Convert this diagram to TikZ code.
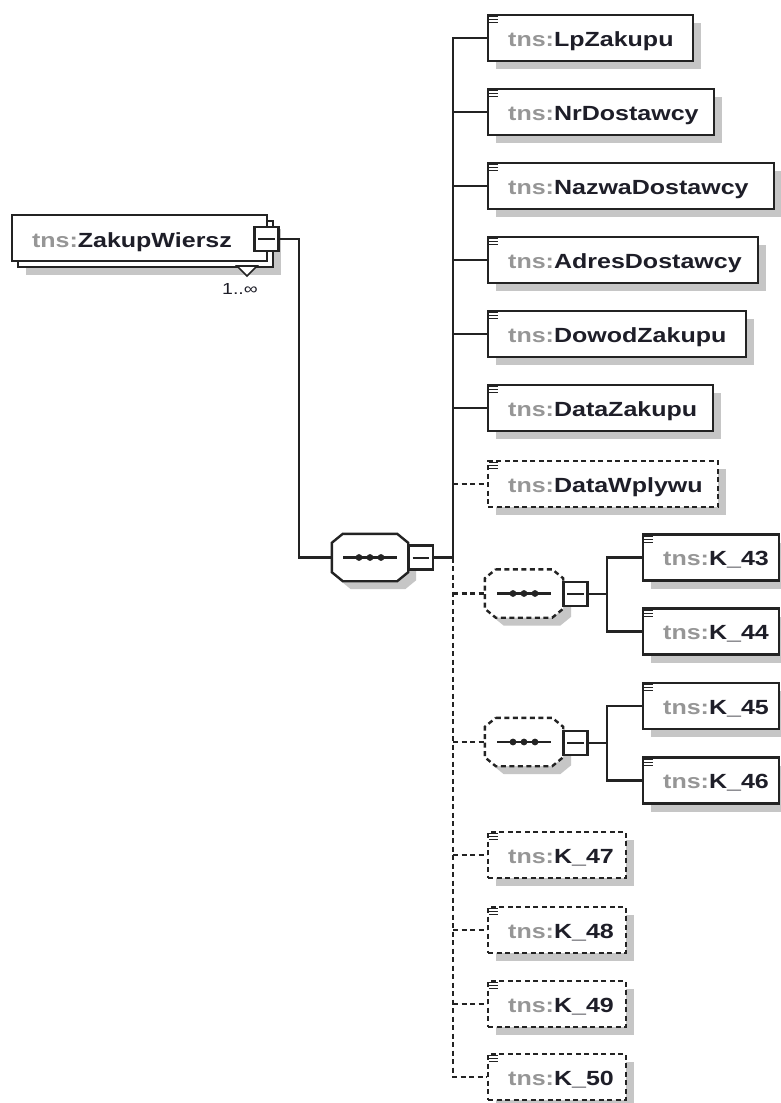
\documentclass[tikz,border=0pt]{standalone}
\usepackage{fontspec}
\newfontfamily\lblfont{Liberation Sans}[FakeStretch=1.22]
\usetikzlibrary{shadows,calc}
\definecolor{tnsgray}{RGB}{150,150,150}
\definecolor{namedark}{RGB}{30,30,40}
\definecolor{linecol}{RGB}{35,35,35}
\definecolor{shadowgray}{RGB}{198,198,198}
\tikzset{
  conn/.style={draw=linecol, line width=2.4pt},
  optconn/.style={conn, dash pattern=on 5pt off 3.5pt},
  boxshadow/.style={drop shadow={shadow xshift=8pt, shadow yshift=-8pt, fill=shadowgray, opacity=1}},
  elbox/.style={draw=linecol, line width=2.4pt, fill=white, minimum height=46pt, inner sep=0pt, boxshadow},
  optbox/.style={elbox, dash pattern=on 5pt off 3.5pt},
  plainbox/.style={draw=linecol, line width=2.4pt, fill=white, minimum height=46pt, inner sep=0pt},
  lbl/.style={inner sep=0pt, font=\lblfont\bfseries\fontsize{20.5}{24}\selectfont, text=namedark},
  cardlbl/.style={inner sep=0pt, font=\lblfont\fontsize{16}{19}\selectfont, text=namedark},
  seqnode/.style={rectangle, draw=none, minimum width=#1, minimum height=47pt, inner sep=0pt},
  minusbox/.style={draw=linecol, line width=2.8pt, fill=white, minimum width=24pt, minimum height=24pt, inner sep=0pt},
}
% element: name, style, left x, centre y, width, label
\newcommand\xelem[6]{%
  \node[#2, minimum width=#5pt, anchor=west] (#1) at (#3,#4) {};
  \node[lbl, anchor=base west] (#1-t) at ($(#1.west)+(21,8)$) {\textcolor{tnsgray}{tns:}#6};
  \foreach \dy in {3,6,9} {\draw[linecol, line width=1.3pt] ($(#1.north west)+(2,\dy)$) -- ++(9,0);}
}
% octagon drawn round a named node
\newcommand\xoct[2]{%
  \fill[shadowgray] ($(#1.north west)+(19,8)$) -- ($(#1.north east)+(-3,8)$) -- ($(#1.north east)+(8,17)$) -- ($(#1.south east)+(8,-1)$) -- ($(#1.south east)+(-3,8)$) -- ($(#1.south west)+(19,8)$) -- ($(#1.south west)+(8,-1)$) -- ($(#1.north west)+(8,17)$) -- cycle;
  \filldraw[fill=white, #2] ($(#1.north west)+(11,0)$) -- ($(#1.north east)+(-11,0)$) -- ($(#1.north east)+(0,9)$) -- ($(#1.south east)+(0,-9)$) -- ($(#1.south east)+(-11,0)$) -- ($(#1.south west)+(11,0)$) -- ($(#1.south west)+(0,-9)$) -- ($(#1.north west)+(0,9)$) -- cycle;
  \draw[conn] ($(#1)+(-27,0)$) -- ($(#1)+(27,0)$);
  \foreach \dx in {-11,0,11} {\fill[linecol] ($(#1)+(\dx,0)$) circle (3.4pt);}
}
\newcommand\xminus[3]{%
  \node[minusbox] (#1) at (#2,#3) {};
  \draw[linecol, line width=2pt] ($(#1.west)+(5,0)$) -- ($(#1.east)+(-5,0)$);
}
\begin{document}
\begin{tikzpicture}[x=1pt, y=-1pt]
\useasboundingbox[fill=white] (0,0) rectangle (781,1103);

% root element
\node[plainbox, minimum width=255pt, boxshadow] (zwback) at (145.5,244) {};
\node[plainbox, minimum width=255pt] (zw) at (139.5,238) {};
\node[lbl, anchor=base west] (zw-t) at ($(zw.west)+(21,9)$) {\textcolor{tnsgray}{tns:}ZakupWiersz};
\filldraw[fill=white, draw=linecol, line width=1.6pt] (237,266) -- (257,266) -- (247,276) -- cycle;
\node[cardlbl, anchor=base west] (card) at (222,294) {1..∞};
\xminus{zwmin}{266.5}{239}

% main sequence
\node[seqnode=76pt] (seq) at (370,557.5) {};
\xoct{seq}{draw=linecol, line width=2.4pt}
\xminus{seqmin}{421}{557.5}

\draw[conn] (zwmin.east) -- ++(19,0) |- (seq.west);

\coordinate (tj) at (453,557.5);
\draw[conn] (seqmin.east) -- (tj);

% children
\xelem{lp}{elbox}{487}{38}{205}{LpZakupu}
\xelem{nr}{elbox}{487}{112}{226}{NrDostawcy}
\xelem{nazwa}{elbox}{487}{186}{286}{NazwaDostawcy}
\xelem{adres}{elbox}{487}{260}{270}{AdresDostawcy}
\xelem{dowod}{elbox}{487}{334}{258}{DowodZakupu}
\xelem{dataz}{elbox}{487}{408}{225}{DataZakupu}
\xelem{dataw}{optbox}{487}{484}{230}{DataWplywu}

\foreach \n in {lp,nr,nazwa,adres,dowod,dataz} {\draw[conn] (tj) |- (\n.west);}
\draw[optconn] (dataw.west -| tj) -- (dataw.west);

% sub-sequences
\node[seqnode=78pt, minimum height=48pt] (g1) at (524,593.5) {};
\xoct{g1}{draw=linecol, line width=2.4pt, dash pattern=on 5pt off 3.5pt}
\xminus{g1min}{575.5}{594}
\node[seqnode=78pt, minimum height=48pt] (g2) at (524,742) {};
\xoct{g2}{draw=linecol, line width=2.4pt, dash pattern=on 5pt off 3.5pt}
\xminus{g2min}{575.5}{743}

\xelem{k43}{elbox}{642}{557.5}{136}{K\_43}
\xelem{k44}{elbox}{642}{631.5}{136}{K\_44}
\xelem{k45}{elbox}{642}{706}{136}{K\_45}
\xelem{k46}{elbox}{642}{780.5}{136}{K\_46}

\coordinate (b1) at (607,594);
\draw[conn] (g1min.east) -- (b1);
\draw[conn] (b1) |- (k43.west);
\draw[conn] (b1) |- (k44.west);
\coordinate (b2) at (607,743);
\draw[conn] (g2min.east) -- (b2);
\draw[conn] (b2) |- (k45.west);
\draw[conn] (b2) |- (k46.west);

\xelem{k47}{optbox}{487}{855}{138}{K\_47}
\xelem{k48}{optbox}{487}{930}{138}{K\_48}
\xelem{k49}{optbox}{487}{1004}{138}{K\_49}
\xelem{k50}{optbox}{487}{1077}{138}{K\_50}

\draw[optconn] (tj) |- (k50.west);
\foreach \n in {g1,g2,k47,k48,k49} {\draw[optconn] (\n.west -| tj) -- (\n.west);}
\end{tikzpicture}
\end{document}
